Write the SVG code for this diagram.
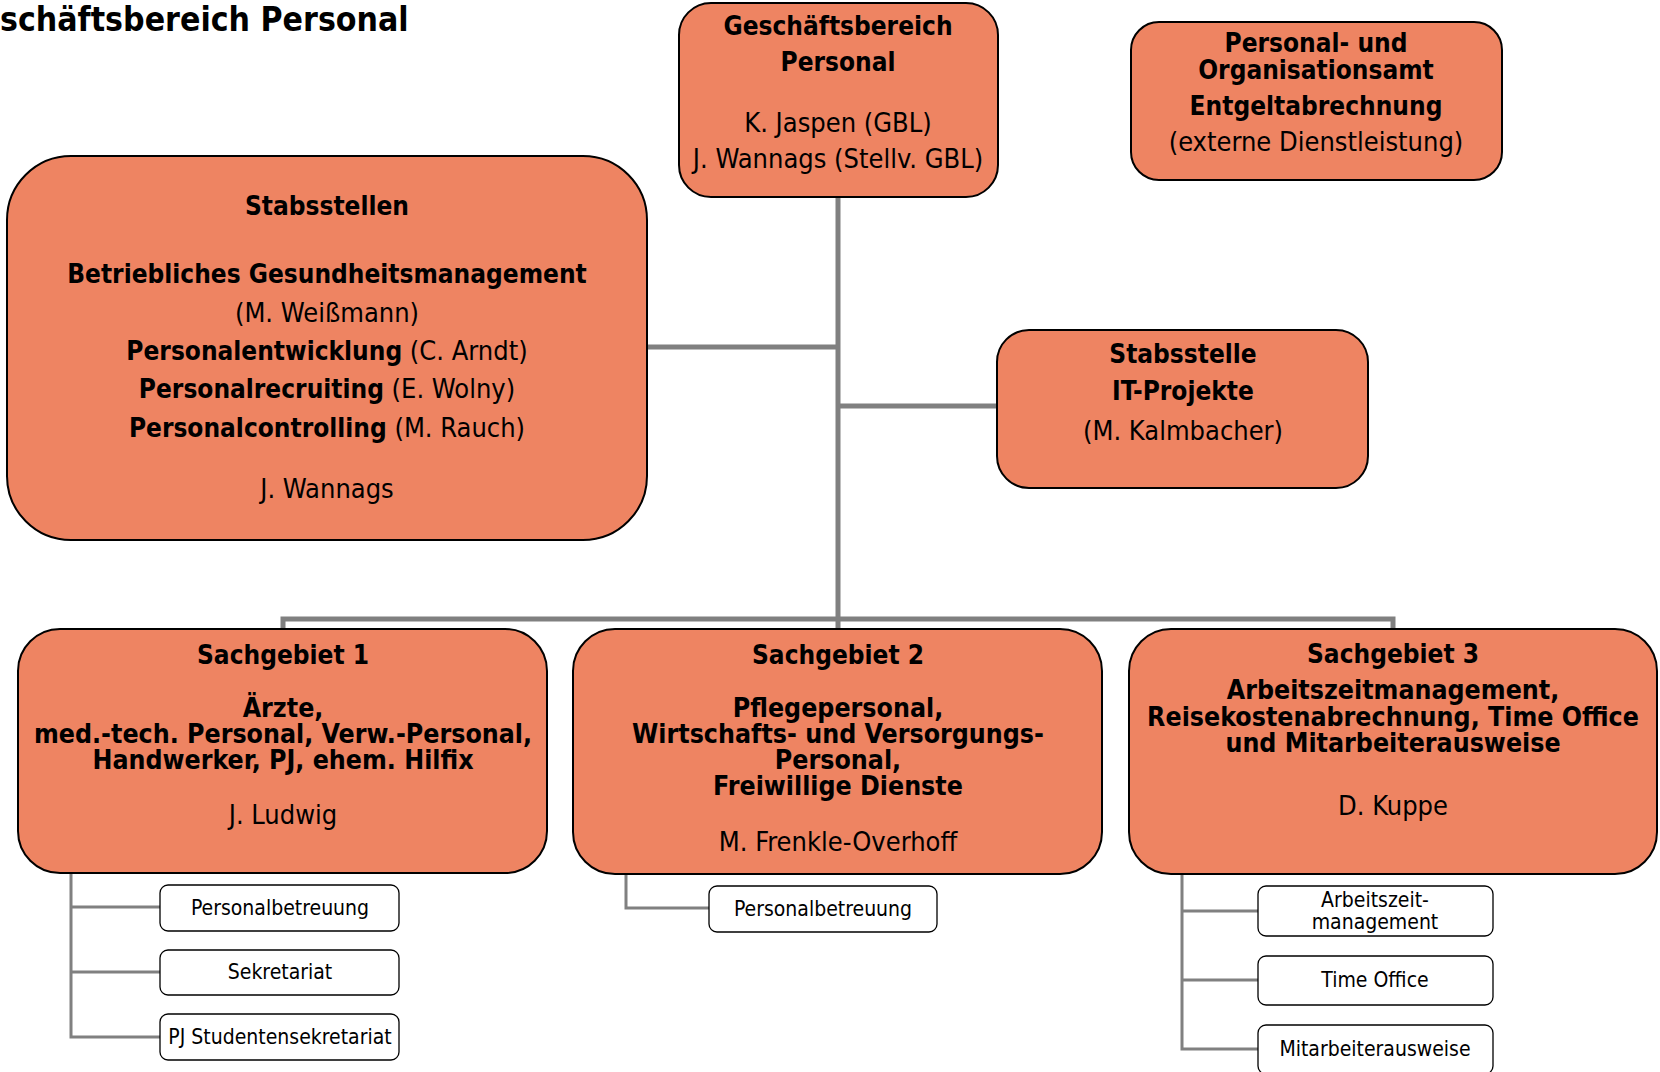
<svg xmlns="http://www.w3.org/2000/svg" width="1660" height="1072" viewBox="0 0 1660 1072">
<style>
text{font-family:"DejaVu Sans Condensed","DejaVu Sans",sans-serif;font-stretch:condensed;fill:#000;text-anchor:middle}
.b{font-weight:bold}
.box{fill:#EE8462;stroke:#000;stroke-width:2}
.sub{fill:#fff;stroke:#000;stroke-width:1.3}
.c{fill:none;stroke:#808080;stroke-width:5}
.c2{fill:none;stroke:#808080;stroke-width:3}
.t26{font-size:26px}
.t27{font-size:27px}
.tb{font-size:26.5px}
.t21{font-size:21px}
</style>
<rect width="1660" height="1072" fill="#fff"/>
<text x="0" y="31" class="b" style="font-size:33.5px;text-anchor:start">schäftsbereich Personal</text>

<g id="connectors">
<path class="c" d="M838 197 V629"/>
<path class="c" d="M647 347 H838"/>
<path class="c" d="M838 406 H998"/>
<path class="c" d="M283 629 V619 H1393 V629"/>
<path class="c2" d="M71 873 V1037 H160 M71 907 H160 M71 972 H160"/>
<path class="c2" d="M626 874 V908 H709"/>
<path class="c2" d="M1182 874 V1049 H1258 M1182 911 H1258 M1182 980 H1258"/>
</g>

<g id="gb">
<rect class="box" x="679" y="3" width="319" height="194" rx="32"/>
<text x="838" y="35" class="b t26">Geschäftsbereich</text>
<text x="838" y="71" class="b t26">Personal</text>
<text x="838" y="132" class="t27">K. Jaspen (GBL)</text>
<text x="838" y="168" class="t27">J. Wannags (Stellv. GBL)</text>
</g>

<g id="poa">
<rect class="box" x="1131" y="22" width="371" height="158" rx="28"/>
<text x="1316" y="52" class="b t26">Personal- und</text>
<text x="1316" y="79" class="b t26">Organisationsamt</text>
<text x="1316" y="115" class="b t26">Entgeltabrechnung</text>
<text x="1316" y="151" class="t27">(externe Dienstleistung)</text>
</g>

<g id="stabsstellen">
<rect class="box" x="7" y="156" width="640" height="384" rx="64"/>
<text x="327" y="215" class="b t26">Stabsstellen</text>
<text x="327" y="283" class="b t26">Betriebliches Gesundheitsmanagement</text>
<text x="327" y="322" class="t27">(M. Weißmann)</text>
<text x="327" y="360" class="t27"><tspan class="b t26">Personalentwicklung</tspan> (C. Arndt)</text>
<text x="327" y="398" class="t27"><tspan class="b t26">Personalrecruiting</tspan> (E. Wolny)</text>
<text x="327" y="437" class="t27"><tspan class="b t26">Personalcontrolling</tspan> (M. Rauch)</text>
<text x="327" y="498" class="t27">J. Wannags</text>
</g>

<g id="it">
<rect class="box" x="997" y="330" width="371" height="158" rx="32"/>
<text x="1183" y="363" class="b t26">Stabsstelle</text>
<text x="1183" y="400" class="b t26">IT-Projekte</text>
<text x="1183" y="440" class="t27">(M. Kalmbacher)</text>
</g>

<g id="sg1">
<rect class="box" x="18" y="629" width="529" height="244" rx="42"/>
<text x="283" y="664" class="b t26">Sachgebiet 1</text>
<text x="283" y="717" class="b tb">Ärzte,</text>
<text x="283" y="743" class="b tb">med.-tech. Personal, Verw.-Personal,</text>
<text x="283" y="769" class="b tb">Handwerker, PJ, ehem. Hilfix</text>
<text x="283" y="824" class="t27">J. Ludwig</text>
</g>

<g id="sg2">
<rect class="box" x="573" y="629" width="529" height="245" rx="42"/>
<text x="838" y="664" class="b t26">Sachgebiet 2</text>
<text x="838" y="717" class="b tb">Pflegepersonal,</text>
<text x="838" y="743" class="b tb">Wirtschafts- und Versorgungs-</text>
<text x="838" y="769" class="b tb">Personal,</text>
<text x="838" y="795" class="b tb">Freiwillige Dienste</text>
<text x="838" y="851" class="t27">M. Frenkle-Overhoff</text>
</g>

<g id="sg3">
<rect class="box" x="1129" y="629" width="528" height="245" rx="42"/>
<text x="1393" y="663" class="b t26">Sachgebiet 3</text>
<text x="1393" y="699" class="b tb">Arbeitszeitmanagement,</text>
<text x="1393" y="726" class="b tb">Reisekostenabrechnung, Time Office</text>
<text x="1393" y="752" class="b tb">und Mitarbeiterausweise</text>
<text x="1393" y="815" class="t27">D. Kuppe</text>
</g>

<g id="sg1-pb">
<rect class="sub" x="160" y="885" width="239" height="46" rx="8"/>
<text x="280" y="915" class="t21">Personalbetreuung</text>
</g>
<g id="sg1-sek">
<rect class="sub" x="160" y="950" width="239" height="45" rx="8"/>
<text x="280" y="979" class="t21">Sekretariat</text>
</g>
<g id="sg1-pj">
<rect class="sub" x="160" y="1014" width="239" height="46" rx="8"/>
<text x="280" y="1044" class="t21">PJ Studentensekretariat</text>
</g>

<g id="sg2-pb">
<rect class="sub" x="709" y="886" width="228" height="46" rx="8"/>
<text x="823" y="916" class="t21">Personalbetreuung</text>
</g>

<g id="sg3-az">
<rect class="sub" x="1258" y="886" width="235" height="50" rx="8"/>
<text x="1375" y="907" class="t21">Arbeitszeit-</text>
<text x="1375" y="929" class="t21">management</text>
</g>
<g id="sg3-to">
<rect class="sub" x="1258" y="956" width="235" height="49" rx="8"/>
<text x="1375" y="987" class="t21">Time Office</text>
</g>
<g id="sg3-ma">
<rect class="sub" x="1258" y="1025" width="235" height="49" rx="8"/>
<text x="1375" y="1056" class="t21">Mitarbeiterausweise</text>
</g>
</svg>
